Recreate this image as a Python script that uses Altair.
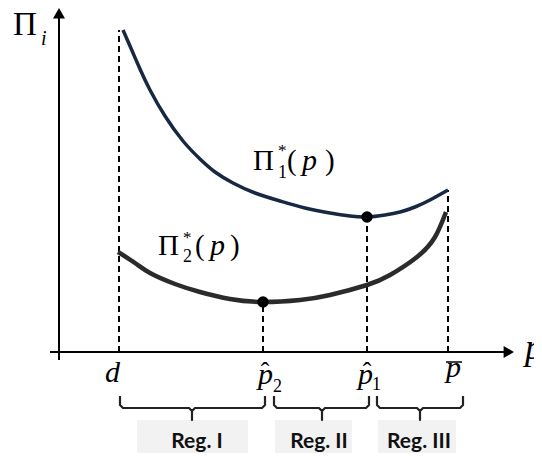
import altair as alt
import pandas as pd

# ---- schematic data (p along x, profit along y; origin at the axes crossing)
pi1_p = [64, 71, 81, 91, 106, 124, 141, 156, 174, 196, 221, 246, 271, 291, 308, 326, 341, 356, 371, 389]
pi1_v = [322, 306, 283, 262, 236, 211, 193, 180, 169, 159, 151, 144, 139, 136, 135, 137, 140, 145, 152, 162]

pi2_p = [59, 76, 91, 116, 141, 171, 204, 241, 271, 308, 331, 358, 376, 387]
pi2_v = [100, 89, 79, 68, 60, 53, 50, 52, 57, 67, 77, 95, 115, 140]

# key prices: d, p-hat-2, p-hat-1, p-bar, and where their dashed guides end
key_p = [60, 204, 308, 389]
key_top = [322, 50, 135, 162]

# optimum points
dot_p = [308, 204]
dot_v = [135, 50]

# axes extents
xaxis_from, xaxis_to, xaxis_tip = -9, 447, 455
yaxis_from, yaxis_to, yaxis_tip = -8, 335, 344

# regime braces and boxes
brace_left = [61, 215, 318]
brace_right = [206, 310, 404]
brace_tip = [133, 263, 361]
brace_top, brace_mid, brace_bottom = -44, -56, -68
reg_names = ["Reg. I", "Reg. II", "Reg. III"]
reg_box_left = [78, 216, 319]
reg_box_right = [189, 293, 397]
reg_text_x = [138, 260, 360]
reg_box_top, reg_box_bottom, reg_text_y = -68, -109, -96

# text pieces: text, x, y, style
lab_text = ["Π", "i",
            "Π", "*", "1", "(", "p", ")",
            "Π", "*", "2", "(", "p", ")",
            "d", "p", "ˆ", "2", "p", "ˆ", "1", "p", "p"]
lab_x = [-46, -18,
         194, 219, 219, 228, 243, 266,
         99, 124, 124, 136, 151, 171,
         46, 199, 206, 214, 299, 308, 313, 387, 466]
lab_y = [317, 307,
         182, 196, 174, 182, 182, 182,
         97, 109, 90, 97, 97, 97,
         -30, -32, -28, -40, -32, -28, -38, -25, -7]
lab_style = ["big", "subi",
             "up", "sup", "sub", "up", "it", "up",
             "up", "sup", "sub", "up", "it", "up",
             "tick", "tick", "hat", "sub", "tick", "hat", "sub", "tick", "axis"]
bar_from, bar_to, bar_y = 387, 403, -10

SERIF = "Liberation Serif"

X = alt.Scale(domain=[-51, 475], nice=False, zero=False)
Y = alt.Scale(domain=[-101, 344], nice=False, zero=False)


def xy(xf="p", yf="v"):
    return dict(x=alt.X(f"{xf}:Q", scale=X, axis=None),
                y=alt.Y(f"{yf}:Q", scale=Y, axis=None))


# boxes
boxes = pd.DataFrame({"x": reg_box_left, "x2": reg_box_right,
                      "y": [reg_box_top] * 3, "y2": [reg_box_bottom] * 3})
box_layer = alt.Chart(boxes).mark_rect(color="#f2f2f2").encode(
    x=alt.X("x:Q", scale=X, axis=None), x2="x2:Q",
    y=alt.Y("y:Q", scale=Y, axis=None), y2="y2:Q")

# braces
rows = []
r = 3
for b, (L, R, T) in enumerate(zip(brace_left, brace_right, brace_tip)):
    pts = [(L, brace_top), (L, brace_mid + r), (L + r, brace_mid), (T - r, brace_mid),
           (T, brace_mid - r), (T, brace_bottom), (T, brace_mid - r), (T + r, brace_mid),
           (R - r, brace_mid), (R, brace_mid + r), (R, brace_top)]
    for i, (px, py) in enumerate(pts):
        rows.append({"b": b, "i": i, "p": px, "v": py})
brace_layer = alt.Chart(pd.DataFrame(rows)).mark_line(
    color="#222222", strokeWidth=2.2, strokeJoin="round").encode(
    detail="b:N", order="i:Q", **xy())

# axes
axes_df = pd.DataFrame({"x": [xaxis_from, 0], "x2": [xaxis_to, 0],
                        "y": [0, yaxis_from], "y2": [0, yaxis_to]})
axes_layer = alt.Chart(axes_df).mark_rule(color="black", strokeWidth=2).encode(
    x=alt.X("x:Q", scale=X, axis=None), x2="x2:Q",
    y=alt.Y("y:Q", scale=Y, axis=None), y2="y2:Q")
head = 0.866 * 12 / 2
arrow_up = alt.Chart(pd.DataFrame({"p": [0], "v": [yaxis_tip - head]})).mark_point(
    shape="triangle-up", filled=True, size=144, color="black", opacity=1).encode(**xy())
arrow_right = alt.Chart(pd.DataFrame({"p": [xaxis_tip - head], "v": [0]})).mark_point(
    shape="triangle-right", filled=True, size=144, color="black", opacity=1).encode(**xy())

# dashed guides
guides = pd.DataFrame({"x": key_p, "y": [0] * 4, "y2": key_top})
guide_layer = alt.Chart(guides).mark_rule(
    color="black", strokeWidth=2, strokeDash=[6, 4]).encode(
    x=alt.X("x:Q", scale=X, axis=None),
    y=alt.Y("y:Q", scale=Y, axis=None), y2="y2:Q")

# curves
c1 = pd.DataFrame({"p": pi1_p, "v": pi1_v})
c2 = pd.DataFrame({"p": pi2_p, "v": pi2_v})
curve1 = alt.Chart(c1).mark_line(color="#172842", strokeWidth=3.5,
                                 interpolate="natural").encode(**xy())
curve2 = alt.Chart(c2).mark_line(color="#2b2b2b", strokeWidth=4.5,
                                 interpolate="natural").encode(**xy())
dots = alt.Chart(pd.DataFrame({"p": dot_p, "v": dot_v})).mark_point(
    shape="circle", filled=True, size=130, color="black", opacity=1).encode(**xy())

# bar of p-bar
bar_layer = alt.Chart(pd.DataFrame({"x": [bar_from], "x2": [bar_to], "y": [bar_y]})).mark_rule(
    color="black", strokeWidth=1.5).encode(
    x=alt.X("x:Q", scale=X, axis=None), x2="x2:Q",
    y=alt.Y("y:Q", scale=Y, axis=None))

labels = pd.DataFrame({"t": lab_text, "p": lab_x, "v": lab_y, "s": lab_style})
styles = {
    "big": dict(fontSize=33),
    "subi": dict(fontSize=20, fontStyle="italic"),
    "up": dict(fontSize=29),
    "it": dict(fontSize=30, fontStyle="italic"),
    "sup": dict(fontSize=17),
    "sub": dict(fontSize=18),
    "tick": dict(fontSize=30, fontStyle="italic"),
    "hat": dict(fontSize=26, align="center"),
    "axis": dict(fontSize=36, fontStyle="italic"),
}
text_layers = []
for s, kw in styles.items():
    sub = labels[labels["s"] == s]
    opts = dict(align="left", baseline="alphabetic", color="black", font=SERIF)
    opts.update(kw)
    text_layers.append(
        alt.Chart(sub).mark_text(**opts).encode(text="t:N", **xy()))

reg_df = pd.DataFrame({"t": reg_names, "p": reg_text_x, "v": [reg_text_y] * 3})
reg_layer = alt.Chart(reg_df).mark_text(
    font="Lato", fontWeight="bold", fontSize=21, align="center",
    baseline="alphabetic", color="#111111").encode(text="t:N", **xy())

chart = alt.layer(
    box_layer, brace_layer, axes_layer, arrow_up, arrow_right,
    guide_layer, curve2, curve1, dots, bar_layer, *text_layers, reg_layer
).properties(
    width=526, height=445, padding=0, autosize=alt.AutoSizeParams(type="none")
).configure_view(stroke=None)

chart.save("out.html", embed_options={"renderer": "svg", "actions": False})
